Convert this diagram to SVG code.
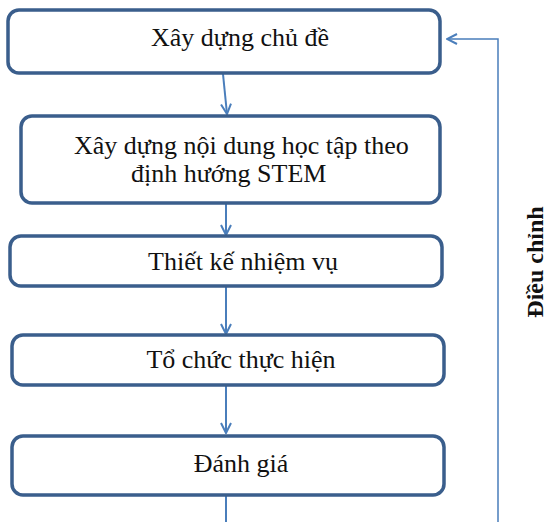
<svg xmlns="http://www.w3.org/2000/svg" width="549" height="522" viewBox="0 0 549 522">
<style>
.box{fill:#fff;stroke:#3A5E8C;stroke-width:3.5}
.t{font-family:"Liberation Serif","Times New Roman",serif;font-size:26px;fill:#111}
.c{fill:none;stroke:#4A7EBB;stroke-width:2}
.f{fill:none;stroke:#4A7EBB;stroke-width:1.5}
.v{font-family:"Liberation Serif","Times New Roman",serif;font-size:24px;font-weight:bold;fill:#111}
</style>
<defs>
<marker id="ah" viewBox="0 0 12 12" refX="11" refY="6" markerWidth="12" markerHeight="12" markerUnits="userSpaceOnUse" orient="auto">
<path d="M1,1 L11,6 L1,11" fill="none" stroke="#4A7EBB" stroke-width="2"/>
</marker>
</defs>
<g id="connectors">
<line class="c" x1="223" y1="74" x2="227" y2="114" marker-end="url(#ah)"/>
<line class="c" x1="226" y1="204" x2="226" y2="235" marker-end="url(#ah)"/>
<line class="c" x1="226" y1="287" x2="226" y2="334" marker-end="url(#ah)"/>
<line class="c" x1="226" y1="386" x2="226" y2="433" marker-end="url(#ah)"/>
<line class="c" x1="226" y1="496" x2="226" y2="522"/>
<polyline class="f" points="498,522 498,39 447,39" marker-end="url(#ah)"/>
</g>
<g id="n1">
<rect class="box" x="8" y="10" width="432" height="63" rx="11"/>
<text class="t" x="240" y="46" text-anchor="middle">Xây dựng chủ đề</text>
</g>
<g id="n2">
<rect class="box" x="21" y="116" width="419" height="87" rx="11"/>
<text class="t" x="74" y="154">Xây dựng nội dung học tập theo</text>
<text class="t" x="131" y="182">định hướng STEM</text>
</g>
<g id="n3">
<rect class="box" x="10" y="236" width="432" height="50" rx="11"/>
<text class="t" x="243" y="270" text-anchor="middle">Thiết kế nhiệm vụ</text>
</g>
<g id="n4">
<rect class="box" x="12" y="335" width="432" height="50" rx="11"/>
<text class="t" x="241" y="368" text-anchor="middle">Tổ chức thực hiện</text>
</g>
<g id="n5">
<rect class="box" x="12" y="436" width="432" height="59" rx="11"/>
<text class="t" x="241" y="472" text-anchor="middle">Đánh giá</text>
</g>
<g id="label">
<text class="v" transform="translate(543,262) rotate(-90)" text-anchor="middle">Điều chỉnh</text>
</g>
</svg>
